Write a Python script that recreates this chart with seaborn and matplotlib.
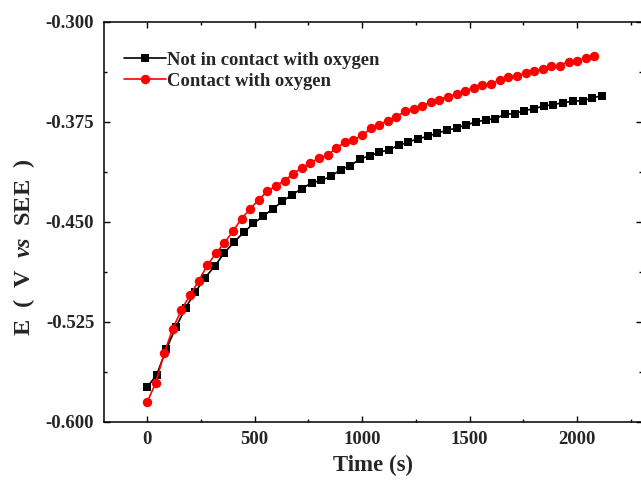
import numpy as np
import pandas as pd
import matplotlib
matplotlib.use("Agg")
import matplotlib.pyplot as plt
import seaborn as sns
from matplotlib.ticker import MultipleLocator, FormatStrFormatter

# ---- data ----
t_no_oxygen = list(range(0, 2116, 45))
e_no_oxygen = [-0.5743, -0.5648, -0.5456, -0.5289, -0.5144, -0.5027, -0.4920, -0.4833,
               -0.4733, -0.4653, -0.4579, -0.4513, -0.4459, -0.4404, -0.4347, -0.4297,
               -0.4252, -0.4209, -0.4190, -0.4160, -0.4110, -0.4080, -0.4030, -0.4005,
               -0.3980, -0.3960, -0.3928, -0.3902, -0.3878, -0.3860, -0.3835, -0.3815,
               -0.3797, -0.3773, -0.3753, -0.3735, -0.3728, -0.3693, -0.3690, -0.3666,
               -0.3653, -0.3631, -0.3623, -0.3606, -0.3598, -0.3591, -0.3573, -0.3554]
t_oxygen = list(range(0, 2081, 40))
e_oxygen = [-0.5855, -0.5711, -0.5486, -0.5301, -0.5162, -0.5050, -0.4945, -0.4828,
            -0.4738, -0.4658, -0.4571, -0.4476, -0.4404, -0.4334, -0.4272, -0.4229,
            -0.4192, -0.4139, -0.4097, -0.4059, -0.4022, -0.4002, -0.3947, -0.3905,
            -0.3885, -0.3853, -0.3800, -0.3773, -0.3741, -0.3711, -0.3673, -0.3653,
            -0.3631, -0.3603, -0.3586, -0.3561, -0.3543, -0.3516, -0.3498, -0.3474,
            -0.3465, -0.3436, -0.3416, -0.3404, -0.3386, -0.3367, -0.3354, -0.3331,
            -0.3329, -0.3299, -0.3292, -0.3274, -0.3257]
labels = ["Not in contact with oxygen", "Contact with oxygen"]
x_ticks = [0, 500, 1000, 1500, 2000]
y_ticks = [-0.600, -0.525, -0.450, -0.375, -0.300]

sns.set_style("ticks")
plt.rcParams["font.family"] = ["Liberation Serif", "DejaVu Serif"]
plt.rcParams["font.weight"] = "bold"
plt.rcParams["mathtext.fontset"] = "custom"
plt.rcParams["mathtext.rm"] = "Liberation Serif:bold"
plt.rcParams["mathtext.bf"] = "Liberation Serif:bold"
plt.rcParams["mathtext.it"] = "Liberation Serif:bold:italic"
plt.rcParams["mathtext.bfit"] = "Liberation Serif:bold:italic"

fig = plt.figure(figsize=(6.41, 4.80), dpi=100)
ax = fig.add_axes([104 / 641, 58.3 / 480, 1.001 - 104 / 641, 400 / 480])

sns.lineplot(x=t_no_oxygen, y=e_no_oxygen, ax=ax, color="black", marker="s",
             markersize=6.0, markeredgewidth=0, linewidth=1.2, label=labels[0])
sns.lineplot(x=t_oxygen, y=e_oxygen, ax=ax, color="#ff0000", marker="o",
             markersize=6.8, markeredgewidth=0, linewidth=1.2, label=labels[1])

ax.set_xlim(-200, 2300)
ax.set_ylim(-0.600, -0.300)
ax.set_xticks(x_ticks)
ax.set_yticks(y_ticks)
ax.xaxis.set_minor_locator(MultipleLocator(250))
ax.yaxis.set_minor_locator(MultipleLocator(0.0375))
ax.yaxis.set_major_formatter(FormatStrFormatter("%.3f"))

for s in ax.spines.values():
    s.set_linewidth(1.1)
    s.set_color("black")
ax.tick_params(which="both", direction="in", top=True, right=True, width=1.0, color="black")
ax.tick_params(which="major", length=4.5)
ax.tick_params(which="minor", length=2.5)
ax.tick_params(axis="x", which="major", labelsize=13.5, pad=7)
ax.tick_params(axis="y", which="major", labelsize=13.5, pad=7)
for lab in ax.get_xticklabels() + ax.get_yticklabels():
    lab.set_fontweight("bold")

ax.set_xlabel("Time (s)", fontsize=16.4, fontweight="bold")
ax.set_ylabel(r"E  (  V  $\mathbfit{vs}$  SEE  )", fontsize=17.5, fontweight="bold")
ax.xaxis.set_label_coords(0.5, -0.083)
ax.yaxis.set_label_coords(-0.125, 0.435)

leg = ax.legend(loc="upper left", bbox_to_anchor=(0.038, 0.925), frameon=False,
                fontsize=13.4, handlelength=2.26, handletextpad=0.05,
                borderpad=0, labelspacing=0.22, borderaxespad=0)
for txt in leg.get_texts():
    txt.set_fontweight("bold")

fig.savefig("out.png", dpi=100)
